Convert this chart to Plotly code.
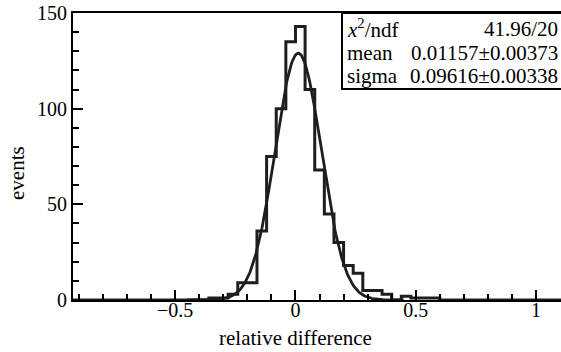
import numpy as np
import plotly.graph_objects as go

# ---- data ----
bin_left = [-0.36, -0.32, -0.28, -0.24, -0.20, -0.16, -0.12, -0.08, -0.04, 0.00,
            0.04, 0.08, 0.12, 0.16, 0.20, 0.24, 0.28, 0.32, 0.36, 0.40,
            0.44, 0.48, 0.52, 0.56]
counts = [1, 1, 3, 9, 9, 36, 75, 100, 135, 143,
          110, 68, 45, 30, 18, 14, 5, 5, 3, 0,
          2, 1, 1, 1]
bin_width = 0.04

# fit parameters (stats box)
fit_mean = 0.01157
fit_sigma = 0.09616
fit_amp = 129.0
chi2_text = "41.96/20"
mean_text = "0.01157\u00b10.00373"
sigma_text = "0.09616\u00b10.00338"

x_range = [-0.925, 1.104]
y_range = [0, 150]

# ---- build step histogram ----
hx = [x_range[0]] + bin_left + [bin_left[-1] + bin_width, x_range[1]]
hy = [0] + counts + [0, 0]

# fit curve from the displayed fit parameters
cx = np.linspace(-0.45, 0.45, 300)
cy = fit_amp * np.exp(-0.5 * ((cx - fit_mean) / fit_sigma) ** 2)

FONT = "Liberation Serif"
INK = "#1e1e1e"

fig = go.Figure()
fig.add_trace(go.Scatter(x=hx, y=hy, mode="lines", line=dict(shape="hv", color=INK, width=3),
                         hoverinfo="skip", showlegend=False))
fig.add_trace(go.Scatter(x=cx, y=cy, mode="lines", line=dict(color=INK, width=2.8),
                         hoverinfo="skip", showlegend=False))

L, T, B = 73, 13, 52
W, H = 561, 352
pw = W - L
ph = H - T - B

def px(xp):
    return (xp - L) / pw

def py(yp):
    return (H - B - yp) / ph

fig.update_layout(
    width=W, height=H,
    margin=dict(l=L, r=0, t=T, b=B, pad=0, autoexpand=False),
    plot_bgcolor="white", paper_bgcolor="white",
    font=dict(family=FONT, color="black", size=20),
    showlegend=False,
)
fig.update_xaxes(
    range=x_range, showgrid=False, zeroline=False, automargin=False,
    showline=True, linecolor="black", linewidth=2, mirror=True,
    ticks="inside", ticklen=10, tickwidth=1.5, tickcolor="black",
    tick0=0, dtick=0.5, tickfont=dict(family=FONT, size=20, color="black"),
    ticklabelstandoff=-9,
    minor=dict(ticks="inside", ticklen=6, tickwidth=1.5, tickcolor="black", dtick=0.1, tick0=0),
)
fig.update_yaxes(
    range=y_range, showgrid=False, zeroline=False, automargin=False,
    showline=True, linecolor="black", linewidth=2, mirror=False,
    ticks="inside", ticklen=10, tickwidth=1.5, tickcolor="black",
    tick0=0, dtick=50, tickfont=dict(family=FONT, size=20, color="black"),
    minor=dict(ticks="inside", ticklen=6, tickwidth=1.5, tickcolor="black", dtick=10, tick0=0),
)

# axis titles
fig.add_annotation(text="relative difference", xref="paper", yref="paper",
                   x=px(295.5), y=py(338), xanchor="center", yanchor="middle",
                   showarrow=False, font=dict(family=FONT, size=21))
fig.add_annotation(text="events", xref="paper", yref="paper",
                   x=px(17), y=py(173), xanchor="center", yanchor="middle",
                   textangle=-90, showarrow=False, font=dict(family=FONT, size=21))

# stats box
fig.add_shape(type="rect", xref="paper", yref="paper",
              x0=px(342), x1=1.01, y0=py(89), y1=1.0,
              line=dict(color="black", width=2), fillcolor="white", layer="above")
rows = [("<i>x</i><sup>2</sup>/ndf", chi2_text, 28.5),
        ("mean", mean_text, 53),
        ("sigma", sigma_text, 75.5)]
for lab, val, yc in rows:
    fig.add_annotation(text=lab, xref="paper", yref="paper", x=px(345), y=py(yc),
                       xanchor="left", yanchor="middle", showarrow=False,
                       font=dict(family=FONT, size=21))
    fig.add_annotation(text=val, xref="paper", yref="paper", x=px(560), y=py(yc),
                       xanchor="right", yanchor="middle", showarrow=False,
                       font=dict(family=FONT, size=21))

fig.write_html("out.html", config={"displayModeBar": False},
               post_script="document.body.style.margin='0';document.body.style.overflow='hidden';")
